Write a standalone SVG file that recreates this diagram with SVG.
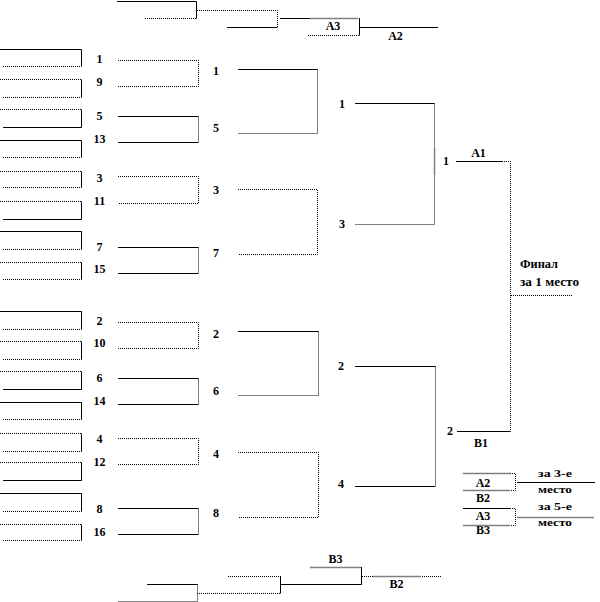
<svg xmlns="http://www.w3.org/2000/svg" width="600" height="602" viewBox="0 0 600 602">
<style>
.s{stroke:#000;fill:none;stroke-width:1}
.d{stroke:#000;fill:none;stroke-width:1;stroke-dasharray:1 1}
.g{stroke:#808080;fill:none;stroke-width:1.5}
.t{font-family:"Liberation Serif","Times New Roman",serif;font-weight:bold;font-size:12px;fill:#000;text-anchor:middle}
.f{font-family:"Liberation Serif","Times New Roman",serif;font-weight:bold;font-size:12px;fill:#000}
.m{font-family:"Liberation Serif","Times New Roman",serif;font-weight:bold;font-size:11px;fill:#000}
</style>
<rect width="600" height="602" fill="#fff"/>
<!-- first-round player slots -->
<g id="p1"><path class="s" d="M0 49.5H81.5"/><path class="s" d="M81.5 49.5V66.5"/><path class="d" d="M3 66.5H81.5"/><text class="t" x="99.5" y="63">1</text></g>
<g id="p9"><path class="d" d="M0 79.5H81.5"/><path class="s" d="M81.5 79.5V97.5"/><path class="d" d="M3 97.5H81.5"/><text class="t" x="99.5" y="86">9</text></g>
<g id="p5"><path class="d" d="M0 109.5H81.5"/><path class="s" d="M81.5 109.5V127.5"/><path class="s" d="M3 127.5H81.5"/><text class="t" x="99.5" y="120">5</text></g>
<g id="p13"><path class="s" d="M0 140.5H81.5"/><path class="s" d="M81.5 140.5V157.5"/><path class="d" d="M3 157.5H81.5"/><text class="t" x="99.5" y="143">13</text></g>
<g id="p3"><path class="d" d="M0 171.5H81.5"/><path class="s" d="M81.5 171.5V187.5"/><path class="d" d="M3 187.5H81.5"/><text class="t" x="99.5" y="182">3</text></g>
<g id="p11"><path class="d" d="M0 201.5H81.5"/><path class="s" d="M81.5 201.5V219.5"/><path class="s" d="M3 219.5H81.5"/><text class="t" x="99.5" y="205">11</text></g>
<g id="p7"><path class="s" d="M0 231.5H81.5"/><path class="s" d="M81.5 231.5V249.5"/><path class="d" d="M3 249.5H81.5"/><text class="t" x="99.5" y="251">7</text></g>
<g id="p15"><path class="d" d="M0 262.5H81.5"/><path class="s" d="M81.5 262.5V279.5"/><path class="d" d="M3 279.5H81.5"/><text class="t" x="99.5" y="273">15</text></g>
<g id="p2"><path class="s" d="M0 311.5H81.5"/><path class="s" d="M81.5 311.5V329.5"/><path class="d" d="M3 329.5H81.5"/><text class="t" x="99.5" y="325">2</text></g>
<g id="p10"><path class="d" d="M0 341.5H81.5"/><path class="s" d="M81.5 341.5V359.5"/><path class="d" d="M3 359.5H81.5"/><text class="t" x="99.5" y="347">10</text></g>
<g id="p6"><path class="d" d="M0 371.5H81.5"/><path class="s" d="M81.5 371.5V389.5"/><path class="s" d="M3 389.5H81.5"/><text class="t" x="99.5" y="382">6</text></g>
<g id="p14"><path class="s" d="M0 402.5H81.5"/><path class="s" d="M81.5 402.5V419.5"/><path class="d" d="M3 419.5H81.5"/><text class="t" x="99.5" y="405">14</text></g>
<g id="p4"><path class="d" d="M0 433.5H81.5"/><path class="s" d="M81.5 433.5V451.5"/><path class="d" d="M3 451.5H81.5"/><text class="t" x="99.5" y="443">4</text></g>
<g id="p12"><path class="d" d="M0 462.5H81.5"/><path class="s" d="M81.5 462.5V480.5"/><path class="s" d="M3 480.5H81.5"/><text class="t" x="99.5" y="466">12</text></g>
<g id="p8"><path class="s" d="M0 493.5H81.5"/><path class="s" d="M81.5 493.5V511.5"/><path class="d" d="M3 511.5H81.5"/><text class="t" x="99.5" y="513">8</text></g>
<g id="p16"><path class="d" d="M0 524.5H81.5"/><path class="s" d="M81.5 524.5V540.5"/><path class="d" d="M3 540.5H81.5"/><text class="t" x="99.5" y="536">16</text></g>

<!-- round labels -->
<g id="r2-labels">
<text class="t" x="216" y="75">1</text><text class="t" x="216" y="132">5</text>
<text class="t" x="216" y="194">3</text><text class="t" x="216" y="257">7</text>
<text class="t" x="216" y="338">2</text><text class="t" x="216" y="395">6</text>
<text class="t" x="216" y="458">4</text><text class="t" x="216" y="517">8</text>
</g>
<g id="r3-labels">
<text class="t" x="342" y="108">1</text><text class="t" x="342" y="228">3</text>
<text class="t" x="341" y="370">2</text><text class="t" x="341" y="488">4</text>
</g>
<g id="r4-labels">
<text class="t" x="446" y="165">1</text><text class="t" x="450" y="435">2</text>
<text class="t" x="478.5" y="157">A1</text><text class="t" x="481" y="447">B1</text>
</g>
<g id="final">
<text class="f" x="520" y="268" textLength="38" lengthAdjust="spacingAndGlyphs">Финал</text>
<text class="f" x="520" y="286" textLength="59" lengthAdjust="spacingAndGlyphs">за 1 место</text>
</g>
<g id="place3">
<text class="t" x="483" y="487">A2</text><text class="t" x="483" y="502">B2</text>
<text class="m" x="538" y="477" textLength="34" lengthAdjust="spacingAndGlyphs">за 3-е</text>
<text class="m" x="538" y="493" textLength="34" lengthAdjust="spacingAndGlyphs" font-size="10">место</text>
</g>
<g id="place5">
<text class="t" x="483" y="520">A3</text><text class="t" x="483" y="534">B3</text>
<text class="m" x="538" y="510" textLength="34" lengthAdjust="spacingAndGlyphs">за 5-е</text>
<text class="m" x="538" y="526" textLength="34" lengthAdjust="spacingAndGlyphs" font-size="10">место</text>
</g>
<g id="top-consolation">
<text class="t" x="333" y="30">A3</text><text class="t" x="395.5" y="40">A2</text>
</g>
<g id="bottom-consolation">
<text class="t" x="335.5" y="563">B3</text><text class="t" x="396.5" y="588">B2</text>
</g>

<g id="connectors">
<!-- round 2 brackets -->
<path class="d" d="M118 60.5H198.5V86.5H118"/>
<path class="s" d="M118 116.5H198.5M198.5 142.5H118"/><path class="d" d="M198.5 116.5V142.5"/>
<path class="d" d="M118 176.5H198.5V203.5H118"/>
<path class="s" d="M118 247.5H198.5M198.5 273.5H118"/><path class="d" d="M198.5 247.5V273.5"/>
<path class="d" d="M118 322.5H198.5V348.5H118"/>
<path class="s" d="M118 378.5H198.5M198.5 404.5H118"/><path class="d" d="M198.5 378.5V404.5"/>
<path class="d" d="M118 438.5H198.5V464.5H118"/>
<path class="s" d="M118 508.5H198.5M198.5 534.5H118"/><path class="d" d="M198.5 508.5V534.5"/>
<!-- round 3 brackets -->
<path class="s" d="M238 69.5H317.5"/><path class="d" d="M317.5 69.5V133.5H238"/>
<path class="d" d="M238 189.5H317.5V254.5H238"/>
<path class="s" d="M238 331.5H318.5"/><path class="d" d="M318.5 331.5V395.5H238"/>
<path class="d" d="M238 452.5H318.5V517.5H238"/>
<!-- semifinal brackets -->
<path class="s" d="M355 103.5H434.5"/><path class="d" d="M434.5 103.5V224.5H355"/><path class="g" d="M434.5 148V175"/>
<path class="s" d="M355 366.5H435.5"/><path class="d" d="M435.5 366.5V486.5"/><path class="s" d="M435.5 486.5H355"/>
<!-- final -->
<path class="s" d="M456 161.5H502"/><path class="d" d="M502 161.5H510.5V431.5"/><path class="s" d="M510.5 431.5H457"/>
<path class="d" d="M511 295.5H573"/>
<!-- 3rd / 5th place -->
<path class="g" d="M463 473.5H510M463 490.5H510"/><path class="d" d="M510 473.5H515.5V490.5H510"/>
<path class="s" d="M517 482.5H595"/>
<path class="s" d="M463 508.5H510"/><path class="d" d="M510 508.5H515.5V525.5H510"/><path class="g" d="M463 525.5H510"/>
<path class="g" d="M517 517.5H594"/>
<!-- top consolation -->
<path class="s" d="M117 1.5H196.5V18.5"/><path class="d" d="M145 18.5H196.5"/>
<path class="d" d="M197 10.5H277.5V27.5"/><path class="s" d="M227 27.5H277.5"/>
<path class="s" d="M280 18.5H310"/><path class="g" d="M310 18.5H358"/><path class="s" d="M359.5 18V35.5"/><path class="d" d="M308 35.5H359"/>
<path class="s" d="M360 27.5H438"/>
<!-- bottom consolation -->
<path class="s" d="M147 584.5H197.5"/><path class="d" d="M197.5 584.5V601.5H118"/>
<path class="d" d="M197 593.5H280.5"/><path class="s" d="M280.5 576V593.5"/><path class="d" d="M228 576.5H280.5"/>
<path class="s" d="M280 584.5H361.5V567"/><path class="g" d="M310 567.5H361"/>
<path class="d" d="M362 576.5H442"/><path class="g" d="M373 576.5H421"/>
</g>
</svg>
